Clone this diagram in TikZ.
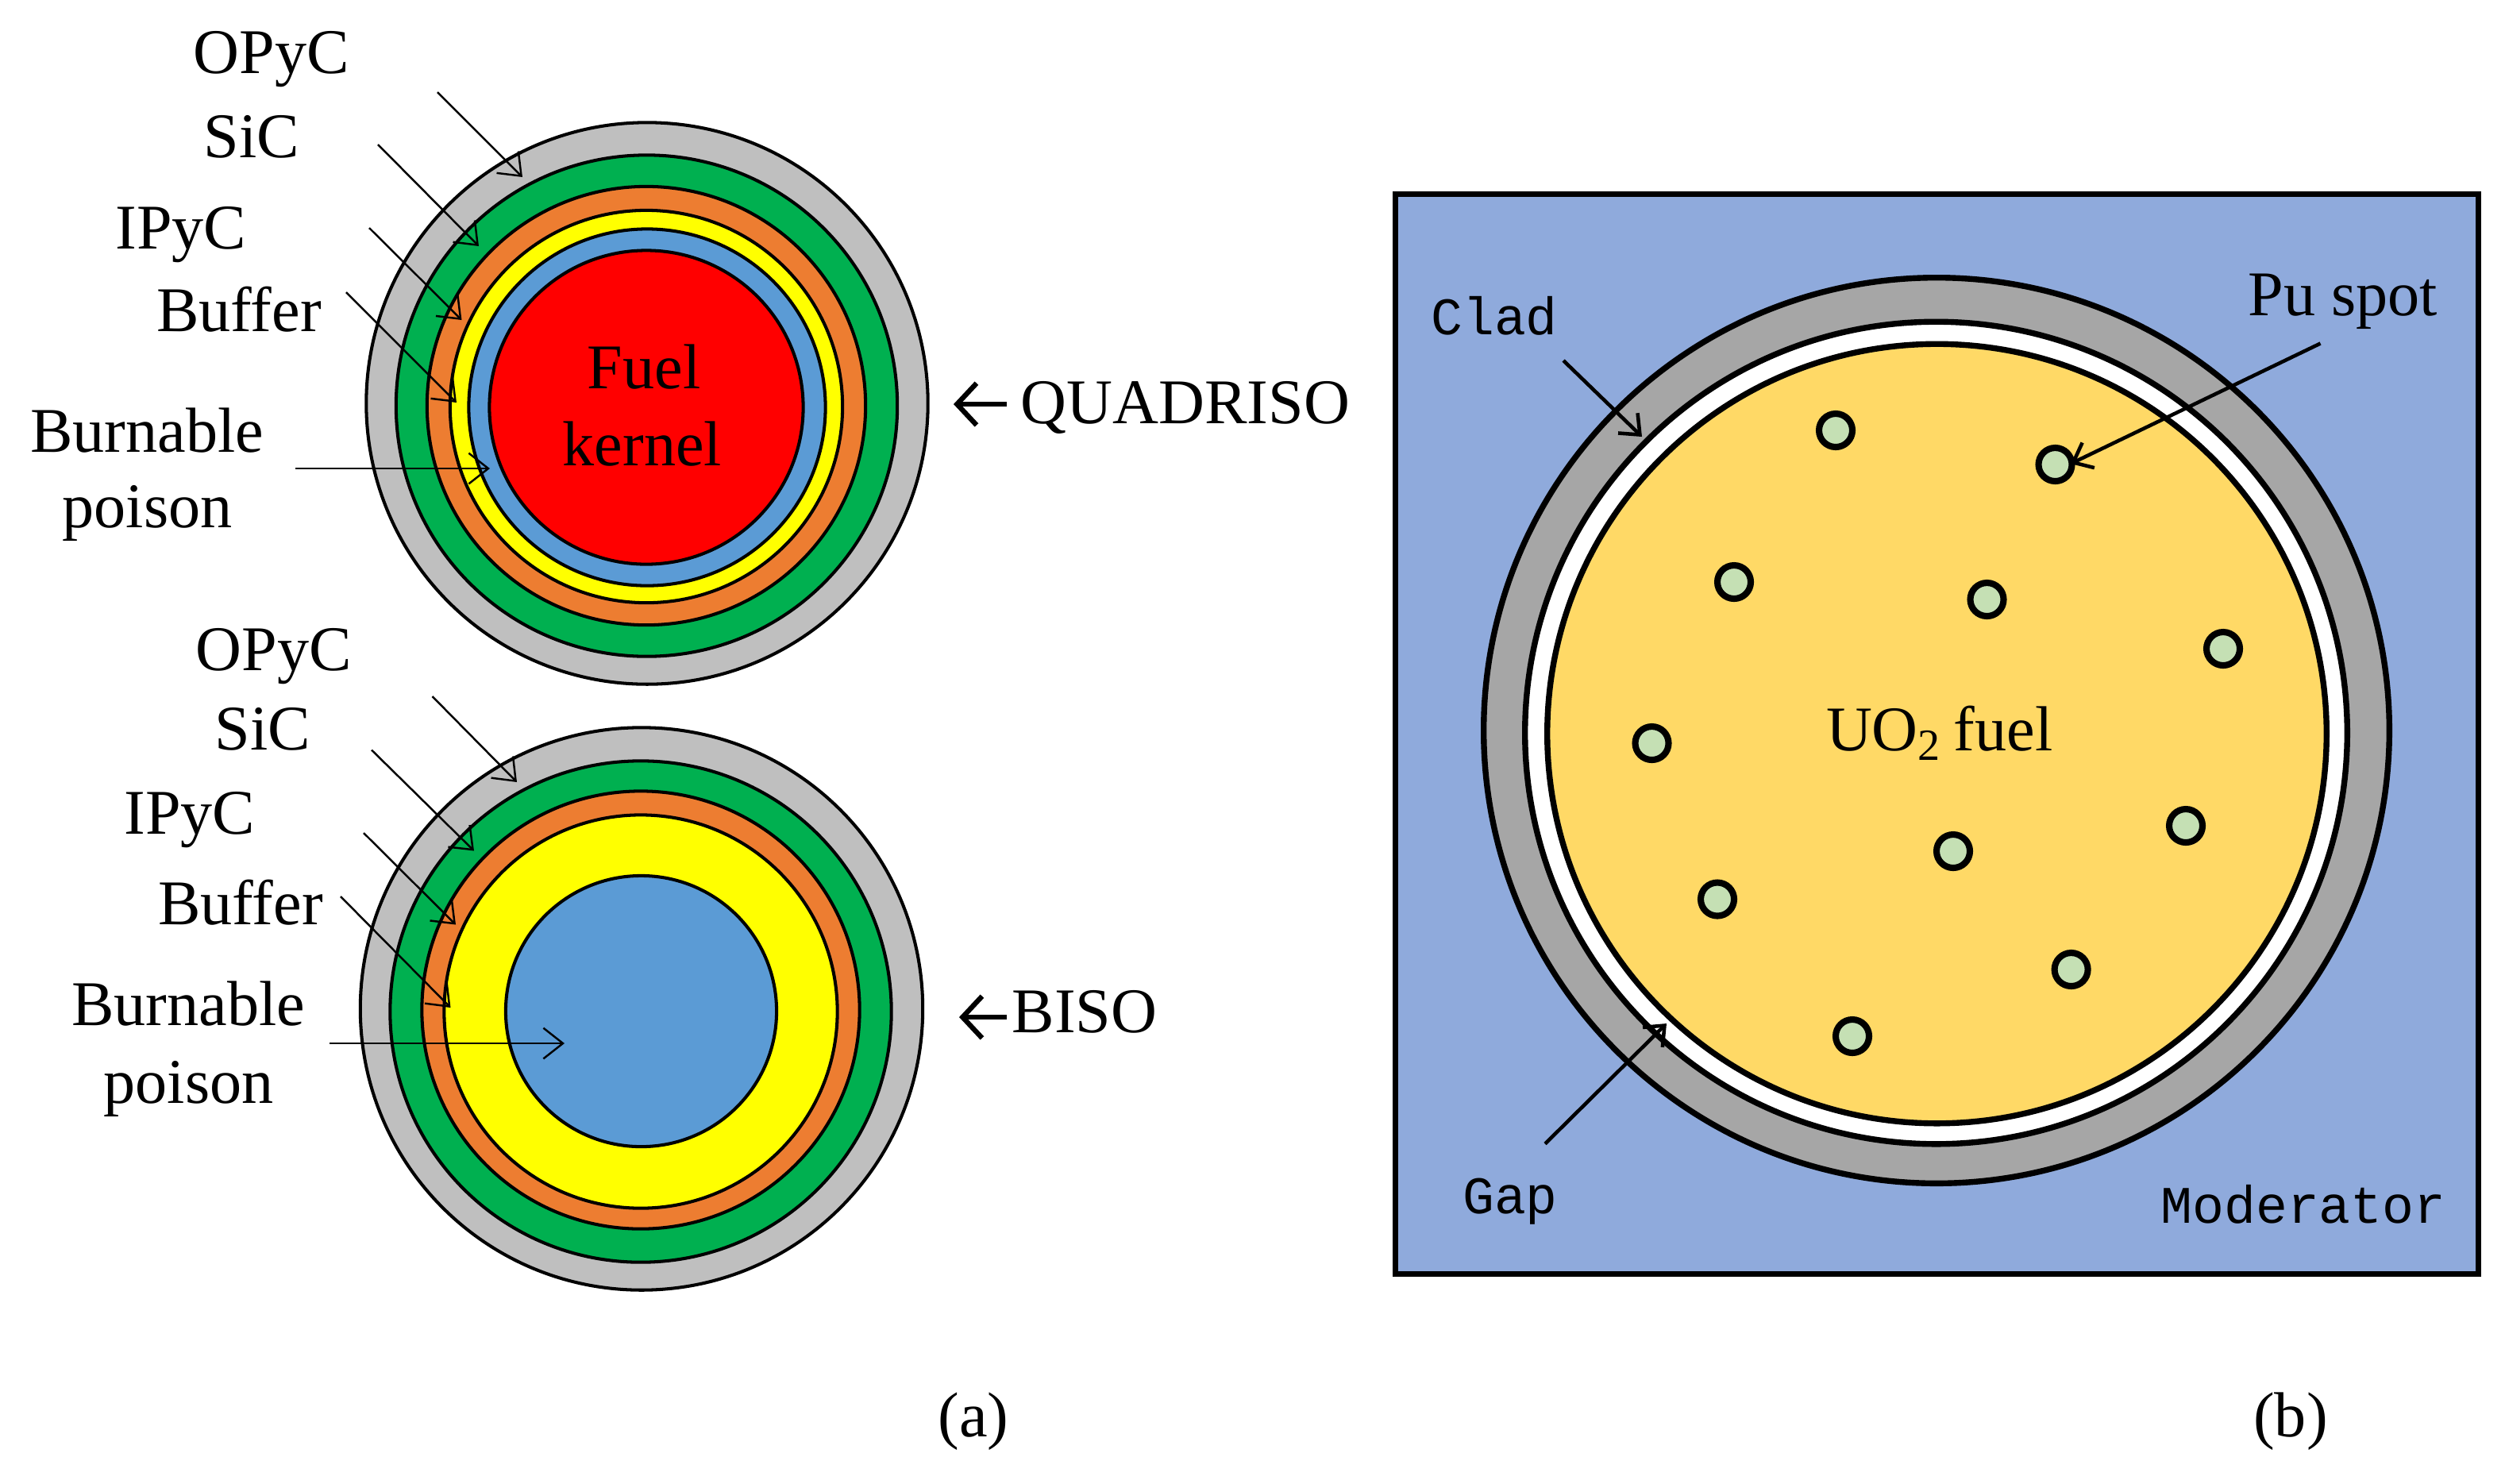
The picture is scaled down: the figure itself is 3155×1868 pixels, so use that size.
\documentclass[tikz,border=0pt]{standalone}
\usepackage{fontspec}
\setmainfont{Liberation Serif}
\newfontfamily\monof{Liberation Mono}
\usetikzlibrary{arrows.meta}
\definecolor{cgray}{HTML}{BFBFBF}
\definecolor{cgreen}{HTML}{00B050}
\definecolor{corange}{HTML}{ED7D31}
\definecolor{cyellow}{HTML}{FFFF00}
\definecolor{cblue}{HTML}{5B9BD5}
\definecolor{cred}{HTML}{FF0000}
\definecolor{cmod}{HTML}{8FAADC}
\definecolor{cclad}{HTML}{A6A6A6}
\definecolor{cfuel}{HTML}{FFD966}
\definecolor{cspot}{HTML}{C5E0B4}
\tikzset{
  ring/.style={circle,draw=black,line width=1.15pt,inner sep=0pt,outer sep=0pt},
  bring/.style={circle,draw=black,line width=2.1pt,inner sep=0pt,outer sep=0pt},
  spot/.style={circle,draw=black,line width=2.3pt,fill=cspot,inner sep=0pt,outer sep=0pt,minimum size=0.42cm},
  lab/.style={anchor=base,inner sep=0pt,outer sep=0pt,font=\fontsize{22.8}{26}\selectfont},
  mono/.style={anchor=base,inner sep=0pt,outer sep=0pt,font=\monof\fontsize{18.9}{22}\selectfont},
  thin arrow/.style={line width=0.7pt,-{Straight Barb[length=7pt,width=11pt,line width=0.7pt]}},
  mid arrow/.style={line width=1.3pt,-{Straight Barb[length=6pt,width=10pt,line width=1.3pt]}},
  big arrow/.style={line width=1.8pt,-{Straight Barb[length=7pt,width=15pt,line width=1.8pt]}}
}
\begin{document}
\begin{tikzpicture}[x=0.01cm,y=-0.01cm]
\useasboundingbox (0,0) rectangle (3155,1868);
% QUADRISO particle
\node[ring,fill=cgray,minimum size=7.07cm]   (q1) at (815,508) {};
\node[ring,fill=cgreen,minimum size=6.31cm]  (q2) at (814.5,511) {};
\node[ring,fill=corange,minimum size=5.52cm] (q3) at (814,511) {};
\node[ring,fill=cyellow,minimum size=4.94cm] (q4) at (814,512) {};
\node[ring,fill=cblue,minimum size=4.49cm]   (q5) at (815,513) {};
\node[ring,fill=cred,minimum size=3.95cm]    (q6) at (814,513) {};
% BISO particle
\node[ring,fill=cgray,minimum size=7.08cm]   (b1) at (808,1270.5) {};
\node[ring,fill=cgreen,minimum size=6.31cm]  (b2) at (807,1274) {};
\node[ring,fill=corange,minimum size=5.51cm] (b3) at (807,1272) {};
\node[ring,fill=cyellow,minimum size=4.95cm] (b4) at (807,1274) {};
\node[ring,fill=cblue,minimum size=3.41cm]   (b5) at (807.5,1273.5) {};
% Labels, left
\node[lab] (qopyc) at (342,92.6) {OPyC};
\node[lab] (qsic) at (317,198) {SiC};
\node[lab] (qipyc) at (228,313) {IPyC};
\node[lab] (qbuf) at (301,417) {Buffer};
\node[lab] (qbur) at (185,569) {Burnable};
\node[lab] (qpoi) at (185.5,664) {poison};
\node[lab] (qfuel) at (811,489) {Fuel};
\node[lab] (qker) at (809,586) {kernel};
\node[lab] (qname) at (1493,533) {QUADRISO};
\node[lab] (bopyc) at (345,844) {OPyC};
\node[lab] (bsic) at (331,944) {SiC};
\node[lab] (bipyc) at (239,1050.6) {IPyC};
\node[lab] (bbuf) at (303,1164) {Buffer};
\node[lab] (bbur) at (237,1291) {Burnable};
\node[lab] (bpoi) at (237.5,1389) {poison};
\node[lab] (bname) at (1366,1300) {BISO};
\node[lab] (capa) at (1226,1809) {(a)};
% Arrow end points, left
\coordinate (a1s) at (551,116);   \coordinate (a1e) at (658,223);
\coordinate (a2s) at (476,182);   \coordinate (a2e) at (603,310);
\coordinate (a3s) at (465,287);   \coordinate (a3e) at (581.5,403);
\coordinate (a4s) at (436,368);   \coordinate (a4e) at (575,507);
\coordinate (a5s) at (372,590);   \coordinate (a5e) at (617,590);
\coordinate (c1s) at (544.5,877); \coordinate (c1e) at (651,985);
\coordinate (c2s) at (468,944.5); \coordinate (c2e) at (597,1071.5);
\coordinate (c3s) at (458,1049);  \coordinate (c3e) at (574,1164.5);
\coordinate (c4s) at (429,1129);  \coordinate (c4e) at (567.5,1269);
\coordinate (c5s) at (415,1314);  \coordinate (c5e) at (711,1314);
\coordinate (qas) at (1268,509);  \coordinate (qae) at (1201,509);
\coordinate (bas) at (1268,1281); \coordinate (bae) at (1208,1281);
\foreach \n in {a1,a2,a3,a4,a5,c1,c2,c3,c4,c5}
  \draw[thin arrow] (\n s) -- (\n e);
\draw[big arrow] (qas) -- (qae);
\draw[big arrow] (bas) -- (bae);
% Panel (b)
\node[draw=black,line width=2.1pt,fill=cmod,inner sep=0pt,outer sep=0pt,minimum width=13.63cm,minimum height=13.59cm] (panel) at (2439.5,924.5) {};
\node[bring,fill=cclad,minimum size=11.40cm] (clad) at (2439,920) {};
\node[bring,fill=white,minimum size=10.35cm] (gap) at (2438.5,923) {};
\node[bring,fill=cfuel,minimum size=9.81cm] (fuel) at (2439.5,924) {};
\node[spot] (s1) at (2312,542) {};
\node[spot] (s2) at (2588.5,585) {};
\node[spot] (s3) at (2184,733) {};
\node[spot] (s4) at (2502.5,755) {};
\node[spot] (s5) at (2800,817) {};
\node[spot] (s6) at (2080.5,936) {};
\node[spot] (s7) at (2460,1072) {};
\node[spot] (s8) at (2753,1040) {};
\node[spot] (s9) at (2163,1132.5) {};
\node[spot] (s10) at (2608.6,1221) {};
\node[spot] (s11) at (2333,1305) {};
\node[mono] (lclad) at (1882,421) {Clad};
\node[mono] (lgap) at (1902,1528) {Gap};
\node[mono] (lmod) at (2901,1540) {Moderator};
\node[lab] (lpu) at (2951,397) {Pu spot};
\node[lab] (luo) at (2442,945) {UO\textsubscript{2}\hspace{-0.06em} fuel\kern-0.02em};
\node[lab] (capb) at (2885,1809) {(b)};
\coordinate (d1s) at (1969,454);   \coordinate (d1e) at (2068,550);
\coordinate (d2s) at (2922.5,432.5); \coordinate (d2e) at (2608,584);
\coordinate (d3s) at (1946,1440.5); \coordinate (d3e) at (2099,1289);
\draw[mid arrow] (d1s) -- (d1e);
\draw[mid arrow] (d2s) -- (d2e);
\draw[mid arrow] (d3s) -- (d3e);
\end{tikzpicture}
\end{document}
